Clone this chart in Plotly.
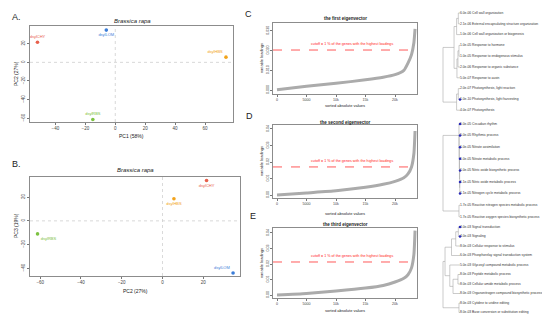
import plotly.graph_objects as go

W, H = 550, 315
FONT = "Liberation Sans, Arial, sans-serif"

# ---------------- PCA data ----------------
samples = ["dsylCHY", "dsylLOM", "dsylHBS", "dsylRBS"]
sample_colors = ["#E8604C", "#3B7DD8", "#F2A31B", "#7DC242"]
pc1 = [-52, -6, 74, -15]
pc2 = [21.6, 34.6, 5.6, -61.3]
pc3 = [34, -44, 18.6, -11]
posA = ["top center", "bottom center", "top left", "top center"]
posB = ["bottom center", "top left", "bottom center", "bottom right"]

# ---------------- eigenvector loading curves ----------------
rank = [0, 5000, 10000, 15000, 18000, 20000, 21500, 22200, 22800, 23200, 23400]
load1 = [0.0002, 0.0019, 0.0034, 0.0052, 0.0065, 0.0078, 0.0100, 0.0137, 0.0180, 0.0240, 0.0310]
load2 = [0.0000, 0.0013, 0.0026, 0.0047, 0.0065, 0.0083, 0.0105, 0.0128, 0.0170, 0.0250, 0.0388]
load3 = [0.0000, 0.0010, 0.0026, 0.0045, 0.0062, 0.0084, 0.0108, 0.0131, 0.0175, 0.0260, 0.0415]
cutoffs = [0.0203, 0.0170, 0.0213]
eig_titles = ["the first eigenvector", "the second eigenvector", "the third eigenvector"]
x_ticks = [0, 5000, 10000, 15000, 20000]
y_ticks_C = [0, 0.01, 0.02, 0.03]
y_ticktext_C = ["0.000", "0.010", "0.020", "0.030"]
y_ticks_DE = [0, 0.01, 0.02, 0.03, 0.04]
y_ticktext_DE = ["0.00", "0.01", "0.02", "0.03", "0.04"]

# ---------------- GO term dendrograms ----------------
terms_C = ["6.0e-06 Cell wall organization",
           "2.1e-06 External encapsulating structure organization",
           "1.0e-06 Cell wall organization or biogenesis",
           "1.0e-05 Response to hormone",
           "1.0e-05 Response to endogenous stimulus",
           "2.0e-06 Response to organic substance",
           "5.0e-07 Response to auxin",
           "2.0e-07 Photosynthesis, light reaction",
           "1.0e-10 Photosynthesis, light harvesting",
           "4.0e-07 Photosynthesis"]
mark_C = [0, 0, 0, 0, 0, 0, 0, 0, 1, 0]
tree_C = [1.0, [0.35, [0.2, [0.1, 0, 1], 2], [0.18, [0.12, [0.06, 3, 4], 5], 6]], [0.2, [0.1, 7, 8], 9]]

terms_D = ["5.0e-05 Circadian rhythm",
           "5.0e-05 Rhythmic process",
           "1.0e-05 Nitrate assimilation",
           "1.0e-05 Nitrate metabolic process",
           "1.0e-05 Nitric oxide biosynthetic process",
           "1.1e-05 Nitric oxide metabolic process",
           "1.1e-05 Nitrogen cycle metabolic process",
           "1.7e-05 Reactive nitrogen species metabolic process",
           "1.7e-05 Reactive oxygen species biosynthetic process"]
mark_D = [1, 1, 1, 1, 1, 1, 1, 0, 0]
tree_D = [1.0, [0.06, 0, [0.05, 1, [0.04, 2, [0.03, 3, [0.02, 4, [0.015, 5, 6]]]]]], [0.06, 7, 8]]

terms_E = ["4.0e-03 Signal transduction",
           "4.0e-03 Signaling",
           "8.0e-03 Cellular response to stimulus",
           "6.0e-03 Phosphorelay signal transduction system",
           "5.0e-03 Glycosyl compound metabolic process",
           "8.0e-03 Peptide metabolic process",
           "8.0e-03 Cellular amide metabolic process",
           "8.0e-03 Organonitrogen compound biosynthetic process",
           "8.0e-03 Cytidine to uridine editing",
           "8.0e-03 Base conversion or substitution editing"]
mark_E = [1, 1, 0, 0, 0, 0, 0, 0, 0, 0]
tree_E = [1.0, [0.88, [0.5, [0.25, [0.1, 0, 1], 2], 3], [0.6, 4, [0.41, [0.12, 5, 6], 7]]], [0.06, 8, 9]]


def px(p):
    return p / W


def py(p):
    return 1 - p / H


def tree_segments(node):
    xs, ys = [], []

    def rec(n):
        if isinstance(n, int):
            return float(n), 0.0
        h, a, b = n
        ya, ha = rec(a)
        yb, hb = rec(b)
        xs.extend([ha, h, h, hb, None])
        ys.extend([ya, ya, yb, yb, None])
        return (ya + yb) / 2, h

    rec(node)
    return xs, ys


fig = go.Figure()

# PCA panels
for (xv, yv, pos, ax) in [(pc1, pc2, posA, ""), (pc2, pc3, posB, "2")]:
    fig.add_trace(go.Scatter(
        x=xv, y=yv, mode="markers+text", text=samples, textposition=pos,
        marker=dict(color=sample_colors, size=3.6),
        textfont=dict(color=sample_colors, size=4, family=FONT),
        xaxis="x" + ax, yaxis="y" + ax, showlegend=False, cliponaxis=False))

# loading curves
for i, (ld, ax) in enumerate([(load1, "3"), (load2, "4"), (load3, "5")]):
    fig.add_trace(go.Scatter(
        x=rank, y=ld, mode="lines", line=dict(color="#ababab", width=3, shape="spline", smoothing=0.5),
        xaxis="x" + ax, yaxis="y" + ax, showlegend=False))

# dendrograms
for terms, marks, tree, ax in [(terms_C, mark_C, tree_C, "6"), (terms_D, mark_D, tree_D, "7"),
                                (terms_E, mark_E, tree_E, "8")]:
    sx, sy = tree_segments(tree)
    fig.add_trace(go.Scatter(x=sx, y=sy, mode="lines", line=dict(color="#a8a8a8", width=0.6),
                             xaxis="x" + ax, yaxis="y" + ax, showlegend=False))
    idx = list(range(len(terms)))
    fig.add_trace(go.Scatter(x=[0] * len(terms), y=idx, mode="text", text=terms,
                             textposition="middle right",
                             textfont=dict(size=3.3, color="#333", family=FONT),
                             xaxis="x" + ax, yaxis="y" + ax, showlegend=False, cliponaxis=False))
    mi = [i for i in idx if marks[i]]
    fig.add_trace(go.Scatter(x=[0] * len(mi), y=mi, mode="markers",
                             marker=dict(color="#2a2ab8", size=2.5),
                             xaxis="x" + ax, yaxis="y" + ax, showlegend=False, cliponaxis=False))

frame = dict(showline=True, mirror=True, linecolor="#8c8c8c", linewidth=0.8, ticks="outside",
             ticklen=2, tickwidth=0.6, tickcolor="#777", showgrid=False, zeroline=False,
             tickfont=dict(size=4.5, color="#444", family=FONT))
frame_s = dict(frame, tickfont=dict(size=3.6, color="#444", family=FONT))
hidden = dict(visible=False, showgrid=False, zeroline=False)

layout = dict(
    width=W, height=H, margin=dict(l=0, r=0, t=0, b=0),
    paper_bgcolor="white", plot_bgcolor="white", font=dict(family=FONT),
    xaxis=dict(frame, domain=[px(22), px(225)], range=[-57, 78.7], tickvals=[-40, -20, 0, 20, 40, 60], anchor="y"),
    yaxis=dict(frame, domain=[py(114), py(18)], range=[-64, 39], tickvals=[-60, -40, -20, 0, 20], tickangle=-90, anchor="x"),
    xaxis2=dict(frame, domain=[px(22), px(232)], range=[-65, 38], tickvals=[-60, -40, -20, 0, 20], anchor="y2"),
    yaxis2=dict(frame, domain=[py(268), py(169)], range=[-46.5, 37], tickvals=[-40, -20, 0, 20], tickangle=-90, anchor="x2"),
    xaxis3=dict(frame_s, domain=[px(265), px(409)], range=[-678, 23729], tickvals=x_ticks, anchor="y3"),
    yaxis3=dict(frame_s, domain=[py(86), py(15)], range=[-0.002, 0.034], tickvals=y_ticks_C, ticktext=y_ticktext_C, tickangle=-90, anchor="x3"),
    xaxis4=dict(frame_s, domain=[px(265), px(409)], range=[-678, 23729], tickvals=x_ticks, anchor="y4"),
    yaxis4=dict(frame_s, domain=[py(190), py(117)], range=[-0.0018, 0.0424], tickvals=y_ticks_DE, ticktext=y_ticktext_DE, tickangle=-90, anchor="x4"),
    xaxis5=dict(frame_s, domain=[px(265), px(409)], range=[-678, 23729], tickvals=x_ticks, anchor="y5"),
    yaxis5=dict(frame_s, domain=[py(290), py(220)], range=[-0.0019, 0.0432], tickvals=y_ticks_DE, ticktext=y_ticktext_DE, tickangle=-90, anchor="x5"),
    xaxis6=dict(hidden, domain=[px(433), 1], range=[1.1176, -5.765], anchor="y6"),
    yaxis6=dict(hidden, domain=[py(108), 1], range=[9.537, -0.463], anchor="x6"),
    xaxis7=dict(hidden, domain=[px(433), 1], range=[1.1176, -5.765], anchor="y7"),
    yaxis7=dict(hidden, domain=[py(215), py(108)], range=[8.534, -0.69], anchor="x7"),
    xaxis8=dict(hidden, domain=[px(433), 1], range=[1.1176, -5.765], anchor="y8"),
    yaxis8=dict(hidden, domain=[py(315), py(215)], range=[10.105, -0.421], anchor="x8"),
)

shapes = []
# zero reference lines in PCA plots
for ax in ["", "2"]:
    shapes.append(dict(type="line", xref="x" + ax, yref="y" + ax + " domain", x0=0, x1=0, y0=0, y1=1,
                       line=dict(color="#cfcfcf", width=0.8, dash="dot")))
    shapes.append(dict(type="line", xref="x" + ax + " domain", yref="y" + ax, x0=0, x1=1, y0=0, y1=0,
                       line=dict(color="#cfcfcf", width=0.8, dash="dot")))
# cutoff lines
for cut, ax in zip(cutoffs, ["3", "4", "5"]):
    shapes.append(dict(type="line", xref="x" + ax + " domain", yref="y" + ax, x0=0, x1=1, y0=cut, y1=cut,
                       line=dict(color="#ff3030", width=0.8, dash="dash")))
layout["shapes"] = shapes

ann = []


def A(text, x, y, size, rot=0, color="#222", xanchor="center", yanchor="middle", **kw):
    ann.append(dict(text=text, x=x, y=y, xref="paper", yref="paper", showarrow=False,
                    font=dict(size=size, color=color, family=FONT), textangle=rot,
                    xanchor=xanchor, yanchor=yanchor, **kw))


# panel letters
A("A.", px(2), py(9), 9, xanchor="left")
A("B.", px(2), py(156), 9, xanchor="left")
A("C", px(235), py(6), 9, xanchor="left")
A("D", px(236), py(108), 9, xanchor="left")
A("E", px(240), py(208), 9, xanchor="left")
# PCA titles & axis titles
A("<i>Brassica rapa</i>", px(124), py(13), 6)
A("<i>Brassica rapa</i>", px(127), py(162), 6)
A("PC1 (58%)", px(123), py(128), 5)
A("PC2 (27%)", px(8), py(66), 5, rot=-90)
A("PC2 (27%)", px(127), py(283), 5)
A("PC3 (19%)", px(8), py(218), 5, rot=-90)
# eigenvector titles/axes
for title, ty, xt_y, mid_y in [(eig_titles[0], 10, 97, 50), (eig_titles[1], 114, 205, 153),
                                (eig_titles[2], 216, 302, 255)]:
    A("<b>" + title + "</b>", px(337), py(ty), 4.5)
    A("sorted absolute values", px(337), py(xt_y), 4)
    A("variable loadings", px(253), py(mid_y), 4, rot=-90)
# cutoff text
for cut, ax in zip(cutoffs, ["3", "4", "5"]):
    ann.append(dict(text="cutoff = 1 % of the genes with the highest loadings", x=12700, y=cut,
                    xref="x" + ax, yref="y" + ax, showarrow=False, yshift=6,
                    font=dict(size=3.7, color="#ff2020", family=FONT)))
layout["annotations"] = ann

fig.update_layout(**layout)
fig.write_html("out.html")
